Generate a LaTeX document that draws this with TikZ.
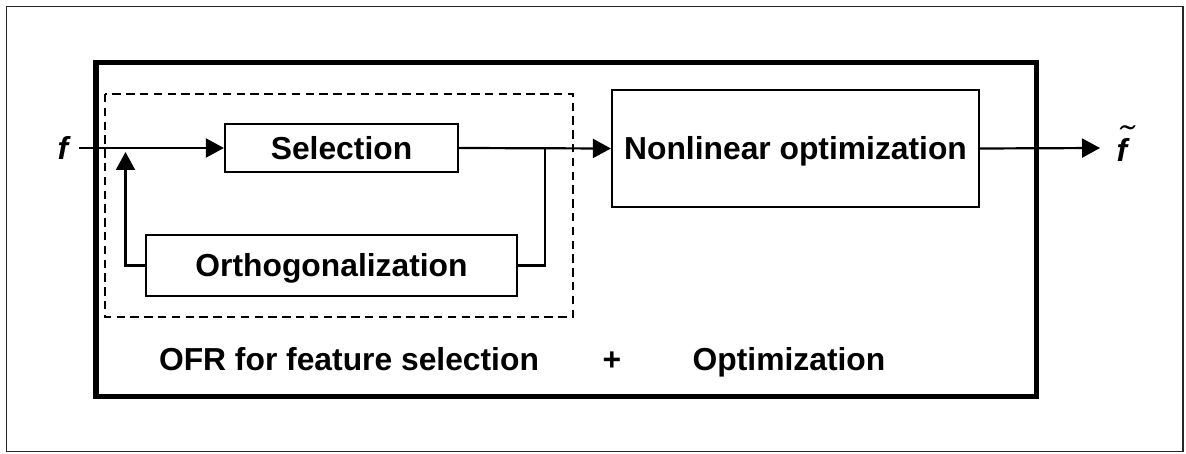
\documentclass[tikz,border=0pt]{standalone}
\usepackage{fontspec}
\usepackage{graphicx}
\setmainfont{Liberation Sans}
\usetikzlibrary{arrows.meta}
\begin{document}
\begin{tikzpicture}[x=0.5pt,y=-0.5pt,
  lbl/.style={font=\fontsize{15.9}{18}\selectfont\bfseries, inner sep=0pt, text height=11.4pt, text depth=0pt},
  blk/.style={draw, line width=1.1pt, inner sep=0pt, text height=11.4pt, text depth=0pt, font=\fontsize{15.9}{18}\selectfont\bfseries},
  conn/.style={line width=1.1pt},
  arr/.style={line width=1.1pt, -{Triangle[length=9pt,width=9.5pt]}}]
\useasboundingbox (0,0) rectangle (1186,454);
\draw[line width=0.75pt, draw=black!85] (6.5,6.5) rectangle (1183,451.5);
\draw[line width=2.75pt] (96,62.5) rectangle (1036.5,396.5);
\draw[line width=1pt, dash pattern=on 4.2pt off 2.7pt] (105,94) rectangle (573,317);
\node[blk, minimum width=116.5pt, minimum height=24pt] (sel) at (341.5,148) {Selection};
\node[blk, minimum width=185.5pt, minimum height=30.5pt] (orth) at (331.5,265.5) {Orthogonalization};
\node[blk, minimum width=183.5pt, minimum height=58.5pt] (nonlin) at (795.5,148.5) {Nonlinear optimization};
\node[lbl] (fin) at (63,148) {\itshape f};
\node[lbl] (fout) at (1122,150) {\itshape\makebox[0pt][l]{\hspace{1pt}\raisebox{6.5pt}{\mdseries\scalebox{1.35}[1]{\char"02DC}}}f};
\coordinate (instart) at (79,148);
\coordinate (fbtop) at (125.5,152);
\coordinate (br) at (545,148);
\coordinate (outend) at (1100,148);
\draw[arr] (instart) -- (sel.west);
\draw[arr] (orth.west) -| (fbtop);
\draw[arr] (sel.east) -- (nonlin.west);
\draw[conn] (br) |- (orth.east);
\draw[arr] (nonlin.east) -- (outend);
\node[lbl] (ofr) at (349,359) {OFR for feature selection};
\node[lbl] (plus) at (612,359) {+};
\node[lbl] (opt) at (789,359) {Optimization};
\end{tikzpicture}
\end{document}
